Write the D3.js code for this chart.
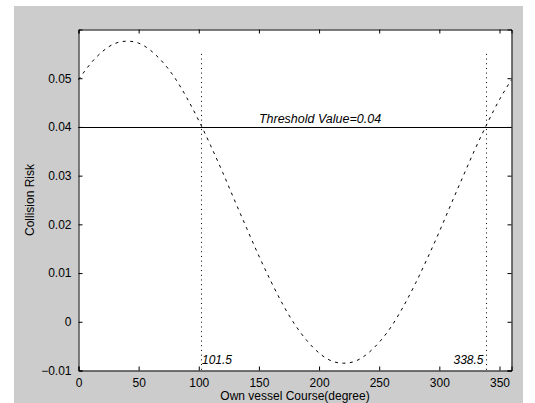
<!DOCTYPE html>
<html><head><meta charset="utf-8">
<script src="https://cdn.jsdelivr.net/npm/d3@7"></script>
<style>html,body{margin:0;padding:0;background:#fff;}svg{display:block;}</style>
</head><body>
<script>
// Data
const courses = [0,10,20,30,40,50,60,70,80,90,100,110,120,130,140,150,160,170,180,190,200,210,220,230,240,250,260,270,280,290,300,310,320,330,340,350,360];
const risk = [0.0497,0.0530,0.0555,0.0571,0.0576,0.0572,0.0557,0.0533,0.0501,0.0460,0.0413,0.0361,0.0306,0.0248,0.0191,0.0135,0.0083,0.0035,-0.0006,-0.0039,-0.0064,-0.0080,-0.0085,-0.0081,-0.0066,-0.0042,-0.0010,0.0031,0.0078,0.0130,0.0185,0.0243,0.0300,0.0356,0.0408,0.0456,0.0497];
const threshold = 0.04;
const crossings = [101.5, 338.5];
const crossingLabels = ["101.5", "338.5"];
const xTicks = [0,50,100,150,200,250,300,350];
const yTicks = [-0.01,0,0.01,0.02,0.03,0.04,0.05];
const xDomain = [0,360], yDomain = [-0.01,0.06];
const markerTop = 0.055;

const W = 535, H = 403;
const svg = d3.select("body").append("svg").attr("width", W).attr("height", H)
  .style("font-family", "Arial, 'Liberation Sans', sans-serif");
svg.append("rect").attr("x",14).attr("y",6).attr("width",509).attr("height",H-6).attr("fill","#cccccc");

const L = 78.5, R = 511.5, T = 29.5, B = 370.5;
const x = d3.scaleLinear().domain(xDomain).range([L, R]);
const y = d3.scaleLinear().domain(yDomain).range([B, T]);

svg.append("rect").attr("x",L).attr("y",T).attr("width",R-L).attr("height",B-T).attr("fill","#ffffff");

const fs = "12px";

// Bottom axis
const gx = svg.append("g").attr("transform",`translate(0,${B})`)
  .call(d3.axisBottom(x).tickValues(xTicks).tickSize(-4).tickPadding(8).tickFormat(d3.format("d")));
// Top axis
const gxt = svg.append("g").attr("transform",`translate(0,${T})`)
  .call(d3.axisTop(x).tickValues(xTicks).tickSize(-4).tickFormat(""));
// Left axis
const gy = svg.append("g").attr("transform",`translate(${L},0)`)
  .call(d3.axisLeft(y).tickValues(yTicks).tickSize(-4).tickPadding(7).tickFormat(d => d===0 ? "0" : d3.format(".2f")(d)));
// Right axis
const gyr = svg.append("g").attr("transform",`translate(${R},0)`)
  .call(d3.axisRight(y).tickValues(yTicks).tickSize(-4).tickFormat(""));
[gx,gxt,gy,gyr].forEach(g => {
  g.select(".domain").attr("stroke","#000").attr("stroke-width",1);
  g.selectAll(".tick line").attr("stroke","#000");
  g.selectAll("text").attr("fill","#000").style("font-size",fs).style("font-family","Arial, 'Liberation Sans', sans-serif");
});

// Threshold line
svg.append("line").attr("x1",L).attr("x2",R).attr("y1",Math.round(y(threshold))+0.5).attr("y2",Math.round(y(threshold))+0.5)
  .attr("stroke","#000").attr("stroke-width",1);

// Curve
const line = d3.line().x((d,i)=>x(courses[i])).y(d=>y(d)).curve(d3.curveNatural);
svg.append("path").datum(risk).attr("d",line).attr("fill","none").attr("stroke","#000")
  .attr("stroke-width",1).attr("stroke-dasharray","3,4.5");

// Crossing markers
crossings.forEach((c,i) => {
  const px = Math.round(x(c))+0.5;
  svg.append("line").attr("x1",px).attr("x2",px).attr("y1",y(markerTop)).attr("y2",B)
    .attr("stroke","#000").attr("stroke-width",1).attr("stroke-dasharray","1,3.7");
  svg.append("text").attr("x", i===0 ? px+0.5 : px-3).attr("y",364)
    .attr("text-anchor", i===0 ? "start" : "end")
    .style("font-size",fs).style("font-style","italic").text(crossingLabels[i]);
});

// Threshold label
svg.append("text").attr("x",x(150)).attr("y",y(threshold)-4)
  .style("font-size","12.5px").style("font-style","italic").text("Threshold Value=0.04");

// Axis labels
svg.append("text").attr("x",(L+R)/2).attr("y",400).attr("text-anchor","middle")
  .style("font-size",fs).text("Own vessel Course(degree)");
svg.append("text").attr("transform",`translate(34,${(T+B)/2}) rotate(-90)`).attr("text-anchor","middle")
  .style("font-size",fs).text("Collision Risk");
</script>
</body></html>
